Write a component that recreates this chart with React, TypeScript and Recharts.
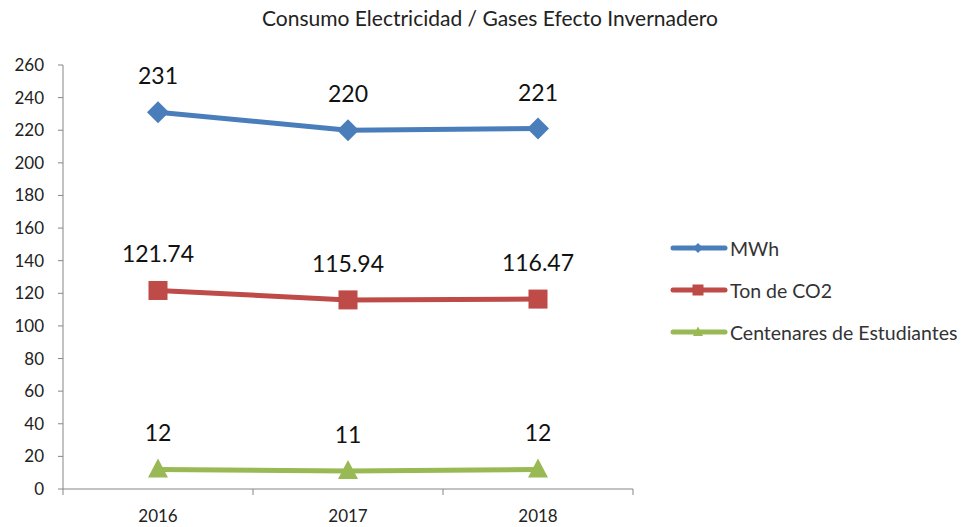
import { LineChart, Line, XAxis, YAxis, LabelList } from 'recharts';

const years = ['2016', '2017', '2018'];
const mwh = [231, 220, 221];
const tonCo2 = [121.74, 115.94, 116.47];
const estudiantes = [12, 11, 12];
const yTicks = [0, 20, 40, 60, 80, 100, 120, 140, 160, 180, 200, 220, 240, 260];

const data = years.map((year, i) => ({
  year,
  mwh: mwh[i],
  ton: tonCo2[i],
  est: estudiantes[i],
}));

const FONT = 'Lato, "Open Sans", sans-serif';
const AXIS = '#868686';

const BLUE = '#4A7EBB';
const RED = '#BE4B48';
const GREEN = '#98B954';

// --- markers ---

function Diamond({ cx, cy, fill, r = 11 }: { cx?: number; cy?: number; fill: string; r?: number }) {
  if (cx == null || cy == null) return null;
  return <polygon points={`${cx - r},${cy} ${cx},${cy - r} ${cx + r},${cy} ${cx},${cy + r}`} fill={fill} />;
}

function Square({ cx, cy, fill, r = 9 }: { cx?: number; cy?: number; fill: string; r?: number }) {
  if (cx == null || cy == null) return null;
  return <rect x={cx - r} y={cy - r} width={r * 2} height={r * 2} fill={fill} stroke={fill} />;
}

function Triangle({ cx, cy, fill, r = 10 }: { cx?: number; cy?: number; fill: string; r?: number }) {
  if (cx == null || cy == null) return null;
  return <polygon points={`${cx - r},${cy + r * 0.8} ${cx},${cy - r * 1.1} ${cx + r},${cy + r * 0.8}`} fill={fill} />;
}

const legendItems = [
  { label: 'MWh', color: BLUE, Marker: Diamond, r: 5 },
  { label: 'Ton de CO2', color: RED, Marker: Square, r: 5 },
  { label: 'Centenares de Estudiantes', color: GREEN, Marker: Triangle, r: 5 },
];

function ChartLegend() {
  return (
    <div style={{ position: 'absolute', left: 670, top: 227, fontFamily: FONT, fontSize: 19.5, color: '#333' }}>
      {legendItems.map(({ label, color, Marker, r }) => (
        <div key={label} style={{ display: 'flex', alignItems: 'center', height: 42 }}>
          <svg width={58} height={14} style={{ marginRight: 2 }}>
            <line x1={3} y1={7} x2={55} y2={7} stroke={color} strokeWidth={5} strokeLinecap="round" />
            <Marker cx={28} cy={7} fill={color} r={r} />
          </svg>
          <span>{label}</span>
        </div>
      ))}
    </div>
  );
}

const labelStyle = { fontFamily: FONT, fontSize: 23, fill: '#111' };

export default function App() {
  return (
    <div style={{ position: 'absolute', left: 0, top: 0, width: 963, height: 527, background: '#fff' }}>
      <div
        style={{
          position: 'absolute',
          top: 5,
          left: 0,
          width: 980,
          textAlign: 'center',
          fontFamily: FONT,
          fontSize: 21,
          color: '#222',
        }}
      >
        Consumo Electricidad / Gases Efecto Invernadero
      </div>
      <LineChart width={963} height={527} data={data} margin={{ top: 65, right: 330, bottom: 0, left: 0 }}>
        <XAxis
          xAxisId="b1"
          dataKey="year"
          height={37}
          axisLine={false}
          tickLine={false}
          padding={{ left: 95, right: 95 }}
          tick={{ fontFamily: FONT, fontSize: 17, fill: '#222' }}
          tickMargin={14}
        />
        <XAxis
          xAxisId="a0"
          type="number"
          domain={[0, 2]}
          ticks={[0, 2 / 3, 4 / 3, 2]}
          tickFormatter={() => ''}
          height={1}
          stroke={AXIS}
          tickSize={6}
          allowDataOverflow
        />
        <YAxis
          domain={[0, 260]}
          ticks={yTicks}
          width={63}
          stroke={AXIS}
          tickSize={5}
          tickMargin={14}
          interval={0}
          tick={{ fontFamily: FONT, fontSize: 17, fill: '#222' }}
        />
        <Line
          xAxisId="b1"
          dataKey="mwh"
          name="MWh"
          stroke={BLUE}
          strokeWidth={5}
          dot={(p: any) => <Diamond key={`d${p.index}`} cx={p.cx} cy={p.cy} fill={BLUE} />}
          isAnimationActive={false}
        >
          <LabelList dataKey="mwh" position="top" offset={28} style={labelStyle} />
        </Line>
        <Line
          xAxisId="b1"
          dataKey="ton"
          name="Ton de CO2"
          stroke={RED}
          strokeWidth={5}
          dot={(p: any) => <Square key={`s${p.index}`} cx={p.cx} cy={p.cy} fill={RED} />}
          isAnimationActive={false}
        >
          <LabelList dataKey="ton" position="top" offset={28} style={labelStyle} formatter={(v: any) => Number(v).toFixed(2)} />
        </Line>
        <Line
          xAxisId="b1"
          dataKey="est"
          name="Centenares de Estudiantes"
          stroke={GREEN}
          strokeWidth={5}
          dot={(p: any) => <Triangle key={`t${p.index}`} cx={p.cx} cy={p.cy} fill={GREEN} />}
          isAnimationActive={false}
        >
          <LabelList dataKey="est" position="top" offset={28} style={labelStyle} />
        </Line>
      </LineChart>
      <ChartLegend />
    </div>
  );
}
